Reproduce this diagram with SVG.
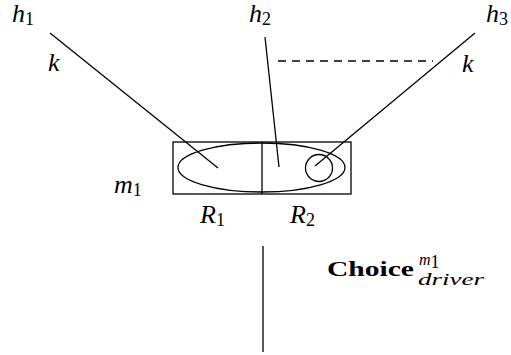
<svg xmlns="http://www.w3.org/2000/svg" width="511" height="355" viewBox="0 0 511 355">
<style>
.ln{stroke:#000;stroke-width:1.3;fill:none}
text{fill:#000}
.m{font-style:italic;font-size:26px}
.s{font-style:normal;font-size:18px}
.si{font-style:italic;font-size:16px}
.b{font-weight:bold;font-size:21px}
</style>
<rect width="511" height="355" fill="#fff"/>
<g id="labels" font-family="Liberation Serif, DejaVu Serif, serif">
<text class="m" x="12" y="22">h<tspan class="s" dy="3">1</tspan></text>
<text class="m" x="249" y="22">h<tspan class="s" dy="3">2</tspan></text>
<text class="m" x="486" y="22">h<tspan class="s" dy="3">3</tspan></text>
<text class="m" x="48" y="71">k</text>
<text class="m" x="462" y="72">k</text>
<text class="m" x="114" y="193">m<tspan class="s" dy="3">1</tspan></text>
<text class="m" x="200" y="223">R<tspan class="s" dy="3">1</tspan></text>
<text class="m" x="290" y="223">R<tspan class="s" dy="3">2</tspan></text>
<text class="b" x="327" y="276" textLength="87" lengthAdjust="spacingAndGlyphs">Choice</text>
<text class="si" x="419" y="265">m<tspan class="s" font-size="12" dy="3">1</tspan></text>
<text class="si" x="418" y="285" textLength="66" lengthAdjust="spacingAndGlyphs">driver</text>
</g>
<g id="node-box">
<rect class="ln" x="173" y="142" width="178" height="52"/>
<line class="ln" x1="262" y1="142" x2="262" y2="194" stroke-width="2"/>
<ellipse class="ln" cx="261.5" cy="167.5" rx="83.5" ry="24.5"/>
<circle class="ln" cx="319" cy="168" r="13.5"/>
</g>
<g id="connectors">
<line class="ln" x1="50" y1="33" x2="218" y2="168"/>
<line class="ln" x1="265" y1="37" x2="279" y2="167"/>
<line class="ln" x1="475" y1="33" x2="315" y2="166"/>
<line class="ln" x1="278" y1="61" x2="433" y2="61" stroke-dasharray="8,6"/>
<line class="ln" x1="263" y1="246" x2="263" y2="352"/>
</g>
</svg>
